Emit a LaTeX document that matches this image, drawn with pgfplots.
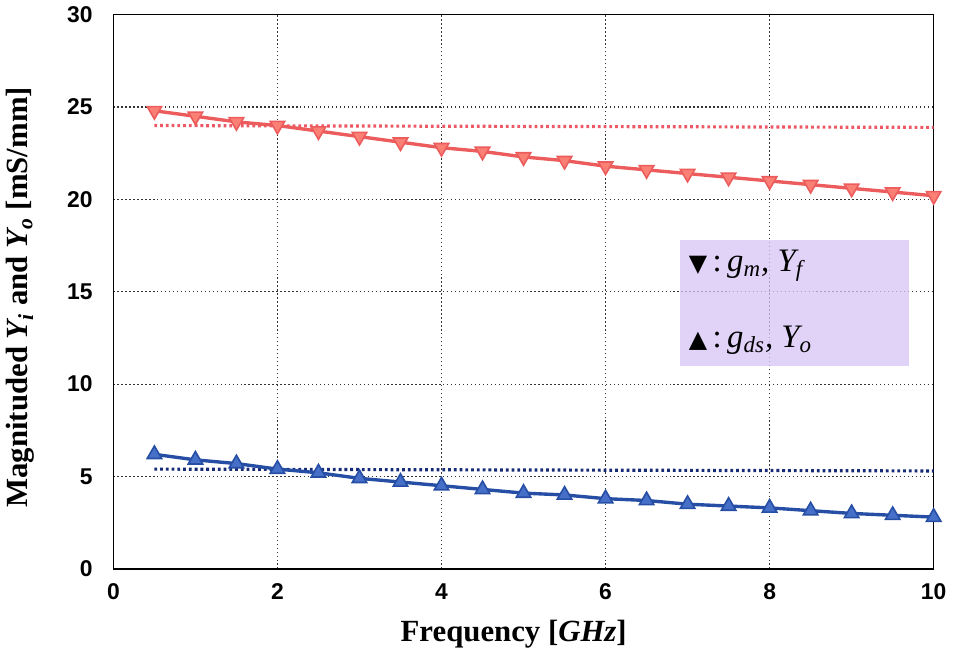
\documentclass[border=0pt]{standalone}
\usepackage{pgfplots}
\pgfplotsset{compat=1.18}
\usepackage{fontspec}
\setmainfont{Liberation Serif}
\newfontfamily\ticksans{Liberation Sans}
\newfontfamily\symfont{DejaVu Sans}
\definecolor{redline}{RGB}{236,92,92}
\definecolor{redfill}{RGB}{250,128,118}
\definecolor{blueline}{RGB}{38,78,165}
\definecolor{bluefill}{RGB}{70,112,200}
\definecolor{reddot}{RGB}{236,88,100}
\definecolor{bluedot}{RGB}{22,42,118}
\definecolor{legfill}{RGB}{214,196,244}
\begin{document}
\begin{tikzpicture}
\begin{axis}[
  scale only axis, width=413pt, height=279pt,
  xmin=0, xmax=10, ymin=0, ymax=30,
  xtick={0,2,...,10}, ytick={0,5,...,30},
  grid=major, grid style={black!80, line width=0.6pt, dash pattern=on 0.7pt off 1.3pt},
  axis line style={black, line width=0.7pt},
  tick style={draw=none},
  ticklabel style={font=\ticksans\bfseries\fontsize{11.5}{13}\selectfont},
  /pgf/number format/assume math mode=true,
  yticklabel style={xshift=-7pt},
  xticklabel style={yshift=-4pt},
  xlabel={\textbf{Frequency [\textit{GHz}]}},
  ylabel={\textbf{Magnituded \textit{Y\textsubscript{i}} and \textit{Y\textsubscript{o}} [mS/mm]}},
  label style={font=\fontsize{15.5}{17}\selectfont},
  xlabel style={at={(axis description cs:0.488,-0.118)}, anchor=center},
  ylabel style={at={(axis description cs:-0.113,0.49)}, anchor=center},
  clip=false,
]
% legend box
\fill[legfill, fill opacity=0.75] (axis cs:6.91,11.0) rectangle (axis cs:9.7,17.8);
\node[anchor=west, font=\fontsize{16.5}{18}\selectfont] at (axis cs:6.93,16.4)
  {{\symfont\fontsize{12}{12}\selectfont ▼}\,:\,\textit{g\textsubscript{m}, Y\textsubscript{f}}};
\node[anchor=west, font=\fontsize{16.5}{18}\selectfont] at (axis cs:6.93,12.4)
  {{\symfont\fontsize{12}{12}\selectfont ▲}\,:\,\textit{g\textsubscript{ds}, Y\textsubscript{o}}};

% red dotted reference
\addplot[reddot, line width=1.6pt, dash pattern=on 1.4pt off 1.5pt] coordinates {(0.5,24.0) (10,23.9)};
% blue dotted reference
\addplot[bluedot, line width=1.6pt, dash pattern=on 1.4pt off 1.5pt] coordinates {(0.5,5.4) (10,5.3)};

% red series
\addplot[redline, line width=1.7pt, mark=triangle*, mark size=4.2pt,
  mark options={rotate=180, fill=redfill, draw=redline, line width=0.8pt}] coordinates {
(0.5,24.8) (1,24.5) (1.5,24.2) (2,24.0) (2.5,23.7) (3,23.4) (3.5,23.1) (4,22.8)
(4.5,22.6) (5,22.3) (5.5,22.1) (6,21.8) (6.5,21.6) (7,21.4) (7.5,21.2) (8,21.0)
(8.5,20.8) (9,20.6) (9.5,20.4) (10,20.2)};

% blue series
\addplot[blueline, line width=1.7pt, mark=triangle*, mark size=4.2pt,
  mark options={fill=bluefill, draw=blueline, line width=0.8pt}] coordinates {
(0.5,6.2) (1,5.9) (1.5,5.7) (2,5.4) (2.5,5.2) (3,4.9) (3.5,4.7) (4,4.5)
(4.5,4.3) (5,4.1) (5.5,4.0) (6,3.8) (6.5,3.7) (7,3.5) (7.5,3.4) (8,3.3)
(8.5,3.15) (9,3.0) (9.5,2.9) (10,2.8)};
\end{axis}
\end{tikzpicture}
\end{document}
